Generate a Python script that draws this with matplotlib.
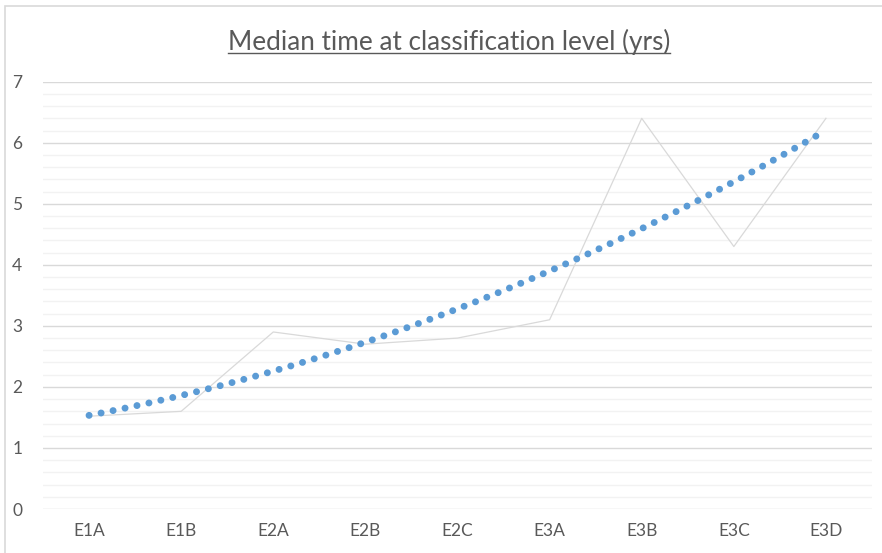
import numpy as np
import matplotlib
matplotlib.use("Agg")
import matplotlib.pyplot as plt
from matplotlib.patches import Rectangle
from matplotlib.lines import Line2D
from matplotlib.ticker import MultipleLocator

categories = ["E1A", "E1B", "E2A", "E2B", "E2C", "E3A", "E3B", "E3C", "E3D"]
median_years = [1.52, 1.6, 2.9, 2.7, 2.8, 3.1, 6.4, 4.3, 6.4]
title = "Median time at classification level (yrs)"
y_ticks = [0, 1, 2, 3, 4, 5, 6, 7]

plt.rcParams['font.family'] = ['Lato', 'DejaVu Sans']

fig = plt.figure(figsize=(8.82, 5.53), dpi=100)
ax = fig.add_axes([43/882, 44/553, (872-43)/882, (509-81.7)/553])

x = np.arange(1, len(categories) + 1)
ax.plot(x, median_years, color="#d9d9d9", lw=0.9, zorder=2)

# polynomial (order 2) trendline fitted to the data, as in the source chart
coef = np.polyfit(x, median_years, 2)
xs = np.linspace(1, len(categories), 400)
tl, = ax.plot(xs, np.polyval(coef, xs), color="#5b9bd5", lw=5.0, zorder=3,
              dash_capstyle="round")
tl.set_dashes((0.01, 1.75))

ax.set_xlim(0.5, len(categories) + 0.5)
ax.set_ylim(0, 7)
ax.set_xticks(x)
ax.set_xticklabels(categories)
ax.set_yticks(y_ticks)
ax.yaxis.set_minor_locator(MultipleLocator(0.2))
ax.grid(axis="y", which="major", color="#d9d9d9", lw=1.0, zorder=0)
ax.grid(axis="y", which="minor", color="#f2f2f2", lw=1.0, zorder=0)
ax.set_axisbelow(True)
for s in ax.spines.values():
    s.set_visible(False)
ax.tick_params(axis="both", which="both", length=0, colors="#595959", labelsize=12.5)
ax.tick_params(axis="y", pad=15)
ax.tick_params(axis="x", pad=10)

t = fig.text(449/882, 1 - 42/553, title, ha="center", va="center",
             fontsize=18.8, color="#595959")
fig.canvas.draw()
bb = t.get_window_extent().transformed(fig.transFigure.inverted())
uy = bb.y0 + 0.004
fig.add_artist(Line2D([bb.x0, bb.x1], [uy, uy], transform=fig.transFigure,
                      color="#595959", lw=1.0))

fig.add_artist(Rectangle((5/882, -0.05), 1.0, (553-6)/553 + 0.05,
                         transform=fig.transFigure, fill=False,
                         edgecolor="#d9d9d9", lw=1.2))

fig.savefig("out.png", dpi=100)
